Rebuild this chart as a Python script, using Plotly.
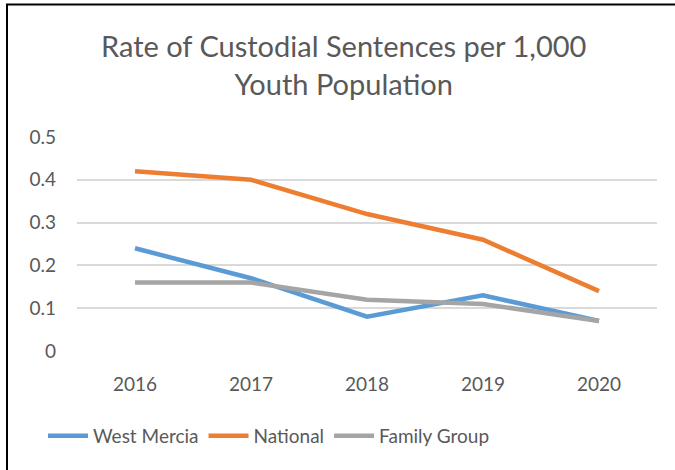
import plotly.graph_objects as go

years = ["2016", "2017", "2018", "2019", "2020"]
west_mercia = [0.24, 0.17, 0.08, 0.13, 0.07]
national = [0.42, 0.40, 0.32, 0.26, 0.14]
family_group = [0.16, 0.16, 0.12, 0.11, 0.07]
y_ticks = [0, 0.1, 0.2, 0.3, 0.4, 0.5]
y_tick_labels = ["0", "0.1", "0.2", "0.3", "0.4", "0.5"]

FONT = "Lato"
TXT = "#595959"

fig = go.Figure()
for name, vals, col in [("West Mercia", west_mercia, "#5B9BD5"),
                        ("National", national, "#ED7D31"),
                        ("Family Group", family_group, "#A5A5A5")]:
    fig.add_trace(go.Scatter(x=years, y=vals, mode="lines", name=name,
                             line=dict(color=col, width=4.5, shape="linear")))

L, R, T, B = 77, 18, 137, 119
W, H = 675, 470
pw, ph = W - L - R, H - T - B

def px(x):
    return (x - L) / pw

def py(y):
    return (H - B - y) / ph

fig.update_layout(
    width=W, height=H,
    margin=dict(l=L, r=R, t=T, b=B, autoexpand=False),
    paper_bgcolor="white", plot_bgcolor="white",
    font=dict(family=FONT, color=TXT, size=19),
    showlegend=True,
    legend=dict(orientation="h", x=px(269), xanchor="center", y=py(436), yanchor="middle",
                font=dict(size=19, color=TXT), itemwidth=40, traceorder="normal"),
    xaxis=dict(type="category", showgrid=False, showline=False, zeroline=False,
               tickfont=dict(size=19, color=TXT), ticklabelstandoff=20,
               range=[-0.5, 4.5]),
    yaxis=dict(range=[0, 0.5], tickvals=y_ticks, ticktext=y_tick_labels,
               showgrid=True, gridcolor="#D9D9D9", gridwidth=1.5,
               zeroline=False, showline=False,
               tickfont=dict(size=19, color=TXT), ticklabelstandoff=20),
    annotations=[dict(text="Rate of Custodial Sentences per 1,000<br>Youth Population",
                      x=px(343), y=py(65), xref="paper", yref="paper",
                      xanchor="center", yanchor="middle", showarrow=False,
                      font=dict(family=FONT, size=29, color=TXT))],
    shapes=[
        dict(type="line", xref="paper", yref="paper", x0=px(6), x1=px(676), y0=py(4.5), y1=py(4.5),
             line=dict(color="black", width=2)),
        dict(type="line", xref="paper", yref="paper", x0=px(7), x1=px(7), y0=py(4), y1=py(471),
             line=dict(color="black", width=2)),
    ],
)

fig.write_html("out.html", config={"displayModeBar": False},
               post_script="document.body.style.margin='0';")
